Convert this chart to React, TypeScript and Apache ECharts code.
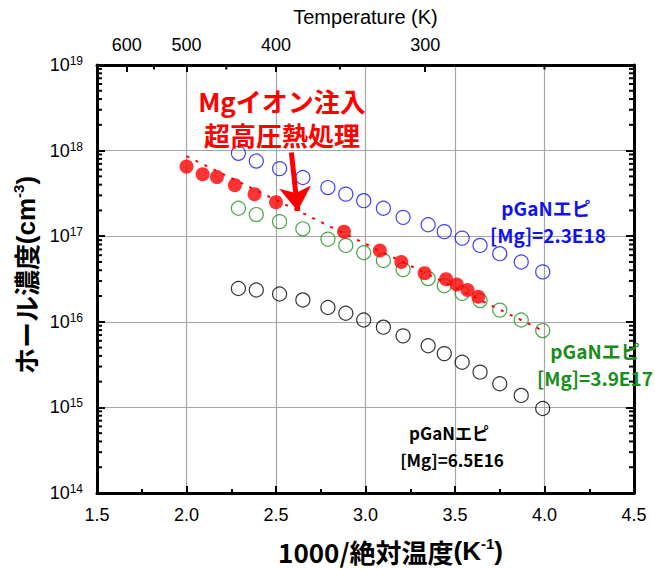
import React, { useEffect, useRef } from "react";
import * as echarts from "echarts";

// ---- data ----
const redX = [2.0, 2.09, 2.17, 2.27, 2.38, 2.5, 2.88, 3.08, 3.2, 3.33, 3.45, 3.51, 3.57, 3.63];
const redY = [6.5e17, 5.3e17, 4.9e17, 3.95e17, 3.1e17, 2.5e17, 1.13e17, 6.8e16, 5.0e16, 3.7e16, 3.15e16, 2.73e16, 2.35e16, 1.96e16];

const epiX = [2.29, 2.39, 2.52, 2.65, 2.79, 2.89, 2.99, 3.1, 3.21, 3.35, 3.44, 3.54, 3.64, 3.75, 3.87, 3.99];
const blueY = [9.3e17, 7.55e17, 6.16e17, 4.85e17, 3.7e17, 3.1e17, 2.6e17, 2.12e17, 1.66e17, 1.36e17, 1.13e17, 9.5e16, 7.8e16, 6.25e16, 5.0e16, 3.83e16];
const greenY = [2.12e17, 1.79e17, 1.48e17, 1.22e17, 9.25e16, 7.8e16, 6.4e16, 5.2e16, 4.07e16, 3.2e16, 2.64e16, 2.15e16, 1.77e16, 1.37e16, 1.05e16, 7.9e15];
const blackY = [2.45e16, 2.35e16, 2.11e16, 1.8e16, 1.47e16, 1.26e16, 1.05e16, 8.65e15, 6.85e15, 5.25e15, 4.25e15, 3.37e15, 2.58e15, 1.89e15, 1.38e15, 9.7e14];

const fitX = [2.0, 4.0];
const fitY = [8.6e17, 7.7e15];

const arrowFrom = [2.586, 9.5e17];
const arrowTo = [2.621, 1.97e17];

const tempLabeled = [600, 500, 400, 300];
const tempMinor = [550, 450, 350, 250];

const xTicks = [1.5, 2.0, 2.5, 3.0, 3.5, 4.0, 4.5];
const yDecades = [14, 15, 16, 17, 18, 19];
const yMinorMultipliers = [2, 3, 4, 5, 6, 7, 8, 9];

const NUM_FONT = "'Liberation Sans Narrow', 'Liberation Sans', Arial, sans-serif";
const SANS_FONT = "'Liberation Sans', Arial, sans-serif";
const JP_FONT = "'Noto Sans CJK JP', sans-serif";

export default function App() {
  const ref = useRef<HTMLDivElement>(null);

  useEffect(() => {
    if (!ref.current) return;
    const chart = echarts.init(ref.current, null, { renderer: "svg" });

    const zip = (xs: number[], ys: number[]) => xs.map((x, i) => [x, ys[i]]);
    const xMin = xTicks[0];
    const xMax = xTicks[xTicks.length - 1];
    const yMin = Math.pow(10, yDecades[0]);
    const yMax = Math.pow(10, yDecades[yDecades.length - 1]);

    // minor tick positions (data values), drawn through the axes' scales
    const yMinorTicks: number[][] = [];
    yDecades.slice(0, -1).forEach((d) =>
      yMinorMultipliers.forEach((m) => {
        const v = m * Math.pow(10, d);
        yMinorTicks.push([xMin, v, 1]);
        yMinorTicks.push([xMax, v, -1]);
      })
    );
    const topMinorTicks = tempMinor.map((t) => [1000 / t, yMax, 0]);

    const axisLine = { show: true, onZero: false, lineStyle: { color: "#000", width: 3 } };

    const option: any = {
      animation: false,
      grid: { left: 97, right: 21, top: 65, bottom: 73 },
      xAxis: [
        {
          type: "value",
          position: "bottom",
          min: xMin,
          max: xMax,
          interval: 0.5,
          axisLine,
          axisTick: { show: true, inside: true, length: 7, lineStyle: { color: "#000", width: 2 } },
          minorTick: { show: true, splitNumber: 2, length: 4, lineStyle: { color: "#000", width: 2 } },
          splitLine: { show: true, lineStyle: { color: "#a6a6a6", width: 1.2 } },
          axisLabel: {
            margin: 13,
            color: "#000",
            fontSize: 18,
            fontFamily: NUM_FONT,
            formatter: (v: number) => v.toFixed(1),
          },
          name: "1000/絶対温度{s|(K}{sup|-1}{s|)}",
          nameLocation: "middle",
          nameGap: 43,
          nameTextStyle: {
            fontSize: 26,
            fontWeight: "bold",
            fontFamily: JP_FONT,
            color: "#000",
            padding: [0, 0, 0, 50],
            rich: {
              s: { fontSize: 26, fontWeight: "bold", fontFamily: SANS_FONT, lineHeight: 30 },
              sup: { fontSize: 15, fontWeight: "bold", fontFamily: SANS_FONT, verticalAlign: "top", lineHeight: 16 },
            },
          },
        },
        {
          type: "value",
          position: "top",
          min: xMin,
          max: xMax,
          axisLine,
          axisTick: {
            show: true,
            inside: true,
            length: 7,
            customValues: tempLabeled.map((t) => 1000 / t),
            lineStyle: { color: "#000", width: 2 },
          },
          splitLine: { show: false },
          axisLabel: {
            margin: 11,
            color: "#000",
            fontSize: 18,
            fontFamily: NUM_FONT,
            customValues: tempLabeled.map((t) => 1000 / t),
            formatter: (v: number) => String(Math.round(1000 / v)),
          },
          name: "Temperature (K)",
          nameLocation: "middle",
          nameGap: 38,
          nameTextStyle: { fontSize: 20, color: "#000", fontFamily: SANS_FONT },
        },
      ],
      yAxis: [
        {
          type: "log",
          logBase: 10,
          position: "left",
          min: yMin,
          max: yMax,
          axisLine,
          axisTick: { show: true, inside: true, length: 8, lineStyle: { color: "#000", width: 2 } },
          splitLine: { show: true, lineStyle: { color: "#a6a6a6", width: 1.2 } },
          axisLabel: {
            margin: 14,
            color: "#000",
            formatter: (v: number) => `{b|10}{s|${Math.round(Math.log10(v))}}`,
            rich: {
              b: { fontSize: 18, fontFamily: NUM_FONT, lineHeight: 20, color: "#000" },
              s: { fontSize: 12, fontFamily: NUM_FONT, lineHeight: 12, verticalAlign: "top", color: "#000" },
            },
          },
          name: "ホール濃度{s|(cm}{sup|-3}{s|)}",
          nameLocation: "middle",
          nameGap: 53,
          nameRotate: 90,
          nameTextStyle: {
            fontSize: 26,
            fontWeight: "bold",
            fontFamily: JP_FONT,
            color: "#000",
            padding: [0, 0, 0, 8],
            rich: {
              s: { fontSize: 26, fontWeight: "bold", fontFamily: SANS_FONT, lineHeight: 30 },
              sup: { fontSize: 15, fontWeight: "bold", fontFamily: SANS_FONT, verticalAlign: "top", lineHeight: 16 },
            },
          },
        },
        {
          type: "log",
          logBase: 10,
          position: "right",
          min: yMin,
          max: yMax,
          axisLine,
          axisTick: { show: true, inside: true, length: 8, lineStyle: { color: "#000", width: 2 } },
          splitLine: { show: false },
          axisLabel: { show: false },
        },
      ],
      series: [
        {
          name: "minor ticks",
          type: "custom",
          silent: true,
          clip: false,
          z: 10,
          data: [...yMinorTicks, ...topMinorTicks],
          renderItem: (_params: any, api: any) => {
            const p = api.coord([api.value(0), api.value(1)]);
            const dir = api.value(2);
            if (dir === 0) {
              return {
                type: "line",
                shape: { x1: p[0], y1: p[1], x2: p[0], y2: p[1] + 4.5 },
                style: { stroke: "#000", lineWidth: 2 },
              };
            }
            return {
              type: "line",
              shape: { x1: p[0], y1: p[1], x2: p[0] + dir * 5, y2: p[1] },
              style: { stroke: "#000", lineWidth: 2 },
            };
          },
        },
        {
          name: "pGaN 3.9E17",
          type: "scatter",
          data: zip(epiX, greenY),
          symbol: "circle",
          symbolSize: 14,
          itemStyle: { color: "rgba(0,0,0,0)", borderColor: "#1a8c1a", borderWidth: 1.2 },
        },
        {
          name: "pGaN 6.5E16",
          type: "scatter",
          data: zip(epiX, blackY),
          symbol: "circle",
          symbolSize: 14,
          itemStyle: { color: "rgba(0,0,0,0)", borderColor: "#000", borderWidth: 1.2 },
        },
        {
          name: "pGaN 2.3E18",
          type: "scatter",
          data: zip(epiX, blueY),
          symbol: "circle",
          symbolSize: 14,
          itemStyle: { color: "rgba(0,0,0,0)", borderColor: "#1010f0", borderWidth: 1.2 },
        },
        {
          name: "fit",
          type: "line",
          data: zip(fitX, fitY),
          showSymbol: false,
          symbol: "none",
          lineStyle: { color: "#ff0000", width: 2, type: [3, 7] },
          markLine: {
            silent: true,
            symbol: ["none", "arrow"],
            symbolSize: 24,
            label: { show: false },
            lineStyle: { color: "#ff0000", width: 5, type: "solid" },
            data: [[{ coord: arrowFrom }, { coord: arrowTo }]],
          },
        },
        {
          name: "Mg implanted",
          type: "scatter",
          data: zip(redX, redY),
          symbol: "circle",
          symbolSize: 14,
          itemStyle: { color: "#ff0000" },
        },
      ],
      graphic: [
        { type: "text", x: 282, y: 100, z: 100, style: { text: "Mgイオン注入", fill: "#ff0000", font: `bold 26px ${JP_FONT}`, textAlign: "center", textVerticalAlign: "middle" } },
        { type: "text", x: 282, y: 134, z: 100, style: { text: "超高圧熱処理", fill: "#ff0000", font: `bold 26px ${JP_FONT}`, textAlign: "center", textVerticalAlign: "middle" } },
        { type: "text", x: 546, y: 207, z: 100, style: { text: "pGaNエピ", fill: "#1010f0", font: `bold 19px ${JP_FONT}`, textAlign: "center", textVerticalAlign: "middle" } },
        { type: "text", x: 548, y: 234, z: 100, style: { text: "[Mg]=2.3E18", fill: "#1010f0", font: `bold 19px ${JP_FONT}`, textAlign: "center", textVerticalAlign: "middle" } },
        { type: "text", x: 595, y: 350, z: 100, style: { text: "pGaNエピ", fill: "#1a8c1a", font: `bold 19px ${JP_FONT}`, textAlign: "center", textVerticalAlign: "middle" } },
        { type: "text", x: 537, y: 377, z: 100, style: { text: "[Mg]=3.9E17", fill: "#1a8c1a", font: `bold 19px ${JP_FONT}`, textAlign: "left", textVerticalAlign: "middle" } },
        { type: "text", x: 449, y: 432, z: 100, style: { text: "pGaNエピ", fill: "#000", font: `bold 17px ${JP_FONT}`, textAlign: "center", textVerticalAlign: "middle" } },
        { type: "text", x: 452, y: 459, z: 100, style: { text: "[Mg]=6.5E16", fill: "#000", font: `bold 17px ${JP_FONT}`, textAlign: "center", textVerticalAlign: "middle" } },
      ],
    };

    chart.setOption(option);
    return () => chart.dispose();
  }, []);

  return (
    <div
      ref={ref}
      style={{ position: "absolute", left: 0, top: 0, width: 655, height: 569, background: "#fff" }}
    />
  );
}
